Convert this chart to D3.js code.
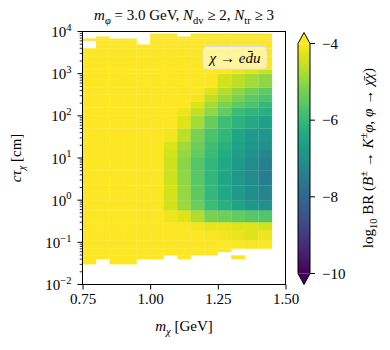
<!DOCTYPE html>
<html>
<head>
<meta charset="utf-8">
<script src="https://cdn.jsdelivr.net/npm/d3@7"></script>
<style>
  html, body { margin: 0; padding: 0; background: #fff; }
  svg { display: block; font-family: "Liberation Serif", "DejaVu Serif", serif; }
  svg text { font-family: "Liberation Serif", "DejaVu Serif", serif; }
</style>
</head>
<body>
<svg id="chart" width="390" height="350"></svg>
<script>
// bin edges of the scan
const massEdges = [0.75, 0.80, 0.85, 0.90, 0.95, 1.00, 1.05, 1.10, 1.15, 1.20, 1.25, 1.30, 1.35, 1.40, 1.45]
const logCtauEdges = [-1.52, -1.40, -1.31, -1.23, -1.15, -0.95, -0.71, -0.52, -0.24, 0.0, 0.35, 0.71, 1.0,
  1.19, 1.38, 1.7, 2.0, 2.2, 2.33, 2.5, 2.67, 3.0, 3.1, 3.4, 3.6, 3.69, 3.78, 3.83, 3.88, 3.95]

// log10 BR per cell, rows from lowest c*tau upwards, null = no point
const Y = -3.7
const N = null
const brLog = [
  [Y, N, Y, Y, N, N, N, N, N, N, N, N, N, N],
  [Y, Y, Y, Y, Y, Y, N, Y, N, N, N, -3.8, N, N],
  [Y, Y, Y, Y, Y, Y, Y, Y, Y, Y, N, N, N, N],
  [Y, Y, Y, Y, Y, Y, Y, Y, Y, Y, Y, N, N, N],
  [Y, Y, Y, Y, Y, Y, Y, Y, Y, Y, Y, -3.9, -4.05, -3.9],
  [Y, Y, Y, Y, Y, Y, Y, Y, Y, -4.05, -4.1, -4.2, -4.3, -4.15],
  [Y, Y, Y, Y, Y, Y, Y, -3.9, -4.1, -4.2, -4.2, -4.3, -4.3, -4.4],
  [Y, Y, Y, Y, Y, Y, -4.15, -4.3, -4.7, -5.2, -5.3, -5.45, -5.55, -5.6],
  [Y, Y, Y, Y, Y, Y, -4.4, -4.9, -5.35, -5.9, -6.2, -6.5, -6.8, -7.0],
  [Y, Y, Y, Y, Y, Y, -4.4, -4.95, -5.5, -6.0, -6.4, -6.75, -7.05, -7.3],
  [Y, Y, Y, Y, Y, Y, -4.45, -5.0, -5.55, -6.05, -6.45, -6.8, -7.1, -7.45],
  [Y, Y, Y, Y, Y, Y, -4.45, -5.05, -5.6, -6.05, -6.4, -6.75, -7.1, -7.4],
  [Y, Y, Y, Y, Y, Y, -4.4, -4.95, -5.45, -5.9, -6.3, -6.65, -6.95, -7.2],
  [Y, Y, Y, Y, Y, Y, -4.35, -4.85, -5.35, -5.85, -6.2, -6.55, -6.8, -7.0],
  [Y, Y, Y, Y, Y, Y, -4.1, -4.6, -5.2, -5.7, -6.05, -6.45, -6.7, -6.85],
  [Y, Y, Y, Y, Y, Y, Y, -4.3, -4.8, -5.4, -5.85, -6.15, -6.35, -6.6],
  [Y, Y, Y, Y, Y, Y, Y, -4.15, -4.55, -5.0, -5.45, -5.9, -6.1, -6.25],
  [Y, Y, Y, Y, Y, Y, Y, Y, -4.3, -4.8, -5.2, -5.5, -5.7, -6.0],
  [Y, Y, Y, Y, Y, Y, Y, Y, -4.1, -4.55, -4.9, -5.2, -5.5, -5.7],
  [Y, Y, Y, Y, Y, Y, Y, Y, Y, -4.3, -4.7, -5.0, -5.3, -5.5],
  [Y, Y, Y, Y, Y, Y, Y, Y, Y, Y, -4.4, -4.6, -4.8, -5.0],
  [Y, Y, Y, Y, Y, Y, Y, Y, Y, Y, Y, -4.15, -4.3, -4.5],
  [Y, Y, Y, Y, Y, Y, Y, Y, Y, Y, Y, Y, Y, Y],
  [Y, Y, Y, Y, Y, Y, Y, Y, Y, Y, Y, Y, Y, Y],
  [N, Y, Y, Y, Y, Y, Y, Y, Y, Y, Y, Y, Y, Y],
  [N, Y, Y, Y, N, Y, Y, Y, Y, Y, Y, Y, Y, Y],
  [Y, Y, Y, Y, N, Y, Y, Y, Y, Y, Y, Y, Y, Y],
  [N, Y, N, N, N, Y, Y, Y, Y, Y, Y, Y, Y, Y],
  [N, N, N, N, N, Y, Y, N, Y, Y, Y, Y, Y, Y]
]

const xTicks = [0.75, 1.00, 1.25, 1.50]
const yExponents = [-2, -1, 0, 1, 2, 3, 4]
const cbTicks = [-4, -6, -8, -10]

const svg = d3.select("#chart")
const FS = 15

// writes mixed italic / sub / superscript pieces into a text element
function rich(text, parts, size) {
  let shift = 0
  parts.forEach(([str, kind = ""]) => {
    const t = text.append("tspan").text(str)
    let target = 0
    if (kind.includes("sub")) target = size * 0.28
    if (kind.includes("sup")) target = -size * 0.42
    if (target !== shift) t.attr("dy", target - shift)
    shift = target
    if (kind.includes("sub") || kind.includes("sup")) t.style("font-size", (size * 0.7) + "px")
    if (kind.includes("i")) t.style("font-style", "italic")
  })
}

const x = d3.scaleLinear().domain([0.75, 1.5]).range([82.5, 285.5])
const y = d3.scaleLog().domain([1e-2, 1e4]).range([284.5, 31.5])
const color = d3.scaleSequential(d3.interpolateViridis).domain([-10, -4]).clamp(true)

// heatmap cells
const cells = []
brLog.forEach((row, i) => {
  row.forEach((v, j) => {
    if (v === null) return
    cells.push({ x0: massEdges[j], x1: massEdges[j + 1], y0: 10 ** logCtauEdges[i], y1: 10 ** logCtauEdges[i + 1], v })
  })
})

svg.append("g").selectAll("rect")
  .data(cells)
  .join("rect")
  .attr("x", d => x(d.x0))
  .attr("width", d => x(d.x1) - x(d.x0))
  .attr("y", d => y(d.y1))
  .attr("height", d => y(d.y0) - y(d.y1))
  .attr("fill", d => color(d.v))
  .attr("stroke", d => color(d.v))
  .attr("stroke-width", 0.2)

// legend box
const lg = svg.append("g")
lg.append("rect")
  .attr("x", 203).attr("y", 46.5).attr("width", 64).attr("height", 22.5)
  .attr("rx", 4)
  .attr("fill", "#fff").attr("fill-opacity", 0.55)
  .attr("stroke", "#e0e0e0").attr("stroke-width", 1)
rich(lg.append("text").attr("x", 235).attr("y", 63).attr("text-anchor", "middle").style("font-size", FS + "px"),
  [["χ", "i"], [" → "], ["e", "i"], ["d\u0304", "i"], ["u", "i"]], FS)

// axes
const xAxis = svg.append("g")
  .attr("transform", "translate(0,284.5)")
  .call(d3.axisBottom(x).tickValues(xTicks).tickFormat(d3.format(".2f")).tickSize(5).tickPadding(4).tickSizeOuter(0))
xAxis.attr("font-family", null).attr("font-size", null)
xAxis.select(".domain").remove()
xAxis.selectAll("text").style("font-size", FS + "px").attr("fill", "#000")
xAxis.selectAll("line").attr("stroke", "#000")

const yAxis = svg.append("g").attr("transform", "translate(82.5,0)")
yExponents.forEach(e => {
  const yy = y(10 ** e)
  yAxis.append("line").attr("x1", -5).attr("x2", 0).attr("y1", yy).attr("y2", yy).attr("stroke", "#000")
  const t = yAxis.append("text").attr("x", -11).attr("y", yy + 5.5)
    .attr("text-anchor", "end").style("font-size", FS + "px")
  rich(t, [["10"], [e < 0 ? "−" + (-e) : String(e), "sup"]], FS)
})
// minor log ticks
const minor = []
for (let e = -2; e < 4; e++) for (let k = 2; k <= 9; k++) minor.push(k * 10 ** e)
yAxis.selectAll("line.minor").data(minor).join("line")
  .attr("class", "minor")
  .attr("x1", -2.8).attr("x2", 0)
  .attr("y1", d => y(d)).attr("y2", d => y(d))
  .attr("stroke", "#000").attr("stroke-width", 0.8)

// frame
svg.append("rect")
  .attr("x", 82.5).attr("y", 31.5).attr("width", 203).attr("height", 253)
  .attr("fill", "none").attr("stroke", "#000").attr("stroke-width", 1)

// titles
rich(svg.append("text").attr("x", 184).attr("y", 20).attr("text-anchor", "middle").style("font-size", FS + "px"),
  [["m", "i"], ["φ", "i sub"], [" = 3.0 GeV, "], ["N", "i"], ["dv", "sub"], [" ≥ 2, "], ["N", "i"], ["tr", "sub"], [" ≥ 3"]], FS)

rich(svg.append("text").attr("x", 184).attr("y", 331).attr("text-anchor", "middle").style("font-size", FS + "px"),
  [["m", "i"], ["χ", "i sub"], [" [GeV]"]], FS)

rich(svg.append("text").attr("transform", "translate(21,158) rotate(-90)").attr("text-anchor", "middle").style("font-size", FS + "px"),
  [["cτ", "i"], ["χ", "i sub"], [" [cm]"]], FS)

// colorbar
const cb = d3.scaleLinear().domain([-10, -4]).range([273.5, 43.5])
const cbx0 = 298, cbx1 = 310, tipLen = 11
const defs = svg.append("defs")
const grad = defs.append("linearGradient").attr("id", "viridis")
  .attr("x1", 0).attr("y1", 1).attr("x2", 0).attr("y2", 0)
d3.range(0, 1.0001, 0.05).forEach(t => {
  grad.append("stop").attr("offset", t).attr("stop-color", d3.interpolateViridis(t))
})
svg.append("rect")
  .attr("x", cbx0).attr("y", cb(-4)).attr("width", cbx1 - cbx0).attr("height", cb(-10) - cb(-4))
  .attr("fill", "url(#viridis)")
const mid = (cbx0 + cbx1) / 2
svg.append("path")
  .attr("d", `M${cbx0},${cb(-4)}L${mid},${cb(-4) - tipLen}L${cbx1},${cb(-4)}Z`)
  .attr("fill", color(-4))
svg.append("path")
  .attr("d", `M${cbx0},${cb(-10)}L${mid},${cb(-10) + tipLen}L${cbx1},${cb(-10)}Z`)
  .attr("fill", color(-10))
svg.append("path")
  .attr("d", `M${cbx0},${cb(-4)}L${mid},${cb(-4) - tipLen}L${cbx1},${cb(-4)}L${cbx1},${cb(-10)}L${mid},${cb(-10) + tipLen}L${cbx0},${cb(-10)}Z`)
  .attr("fill", "none").attr("stroke", "#000").attr("stroke-width", 1)

const cbAxis = svg.append("g")
cbTicks.forEach(v => {
  cbAxis.append("line").attr("x1", cbx1).attr("x2", cbx1 + 5).attr("y1", cb(v)).attr("y2", cb(v)).attr("stroke", "#000")
  cbAxis.append("text").attr("x", cbx1 + 12).attr("y", cb(v) + 5)
    .style("font-size", FS + "px").text("−" + (-v))
})

rich(svg.append("text").attr("transform", "translate(373,158) rotate(-90)").attr("text-anchor", "middle").style("font-size", FS + "px"),
  [["log"], ["10", "sub"], [" BR ("], ["B", "i"], ["±", "sup"], [" → "], ["K", "i"], ["±", "sup"], ["φ", "i"], [", "],
   ["φ", "i"], [" → "], ["χ\u0304", "i"], ["χ", "i"], [")"]], FS)
</script>
</body>
</html>
